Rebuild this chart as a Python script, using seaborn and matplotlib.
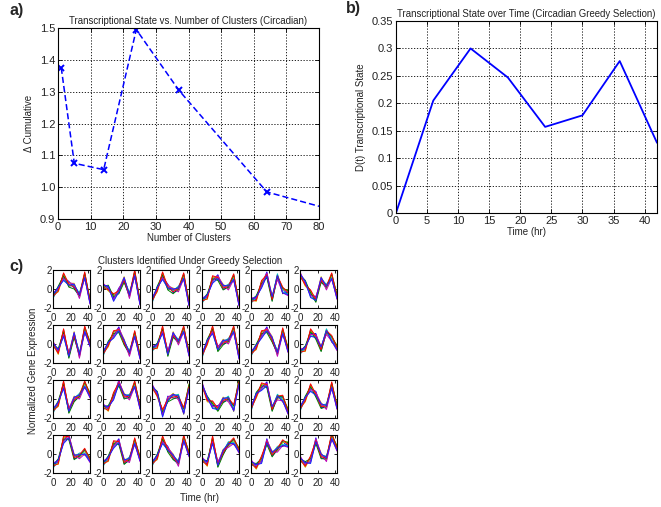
import matplotlib
matplotlib.use('Agg')
import matplotlib.pyplot as plt
import seaborn as sns
import numpy as np
import pandas as pd

# panel a: transcriptional state vs number of clusters
n_clusters = [1, 5, 14, 24, 37, 64, 80]
delta_cum = [1.375, 1.075, 1.055, 1.495, 1.305, 0.985, 0.94]

# panel b: D(t) over time
time_b = [0, 6, 12, 18, 24, 30, 36, 42]
dt_state = [0.0, 0.205, 0.300, 0.247, 0.157, 0.178, 0.277, 0.128]

# panel c: mean profile of each cluster (24 clusters, 8 time points)
time_c = [0, 6, 12, 18, 24, 30, 36, 42]
cluster_means = [
    [-0.7, 0.0, 1.3, 0.5, 0.3, -0.7, 1.4, -1.3],
    [0.3, 0.1, -0.9, -0.2, 1.0, -0.7, 1.6, -1.4],
    [-1.2, 0.0, 1.4, 0.2, -0.2, 0.0, 1.3, -1.5],
    [-1.2, -0.8, 1.0, 1.2, 0.2, 0.2, 1.2, -1.5],
    [-1.2, -1.0, 0.5, 1.5, -1.0, 1.3, -0.2, -0.4],
    [1.5, 0.6, -0.5, -1.1, 1.0, 0.2, 1.3, -0.8],
    [0.0, -0.8, 1.2, -1.2, 1.0, -1.2, 1.5, 0.0],
    [-1.0, 0.0, 1.0, 1.5, 0.2, -1.0, 1.0, -1.3],
    [-0.5, -0.2, 1.5, -1.0, 1.0, 0.2, 1.5, -1.0],
    [-1.2, 0.2, 1.5, -0.5, 0.2, 0.3, 1.5, -1.3],
    [-1.0, -0.3, 1.0, 1.5, 0.5, -1.0, 1.3, -0.6],
    [-0.8, -0.5, 1.2, 0.8, -0.5, 1.3, 0.5, -0.4],
    [-1.2, -0.5, 1.5, -1.2, 0.0, 0.3, 1.5, 0.4],
    [-0.8, -1.0, 0.3, 1.7, 0.3, 0.2, 1.5, -0.8],
    [1.3, 0.5, -1.5, 0.0, 0.3, 0.2, -1.3, 1.3],
    [1.5, 0.0, -0.6, -1.0, -0.1, 0.0, -1.0, 1.8],
    [-1.0, 0.4, 1.3, 1.5, -1.0, 0.2, 0.0, -1.3],
    [-1.0, 0.0, 1.2, 0.5, -0.7, -0.8, 1.4, -0.8],
    [-1.2, -0.8, 1.5, 1.8, -0.3, -0.2, 0.2, -0.6],
    [-1.0, -0.5, 1.0, 1.3, -0.8, -0.6, 1.3, -0.5],
    [-1.0, -0.3, 1.5, 0.5, -0.3, -1.0, 1.6, 0.0],
    [-0.6, -1.0, 1.5, -1.1, 0.2, 1.0, 1.3, 0.4],
    [-0.9, -1.3, -0.6, 1.3, 0.0, 0.5, 1.1, 1.0],
    [-0.5, -1.1, -0.6, 1.4, -0.2, -0.5, 1.8, 0.6],
]
# spread of the individual genes around the cluster mean (read by eye)
gene_spread = [
    [0.2, -0.1, 0.3, -0.2, 0.1, 0.2, -0.3, 0.1],
    [-0.2, 0.2, -0.1, 0.3, -0.2, -0.1, 0.2, -0.2],
    [0.1, -0.3, 0.2, 0.1, 0.3, -0.2, 0.1, 0.3],
    [-0.3, 0.1, -0.3, -0.1, 0.0, 0.3, -0.1, -0.1],
    [0.0, 0.3, 0.1, -0.3, -0.3, 0.0, 0.3, 0.2],
    [0.3, 0.0, -0.2, 0.2, 0.2, -0.3, -0.2, -0.3],
    [-0.1, -0.2, 0.4, 0.0, -0.1, 0.1, 0.4, 0.0],
    [0.1, 0.2, -0.4, -0.1, 0.2, 0.1, -0.2, -0.2],
]
# old matlab colour order (dark ones drawn first so the colours show on top)
matlab_colors = ['#303030', '#0000ff', '#bfbf00', '#00bfbf', '#008000', '#bf00bf', '#ff0000', '#2020ff']

sns.set_style('white')
plt.rcParams['font.family'] = ['Liberation Sans', 'DejaVu Sans']
plt.rcParams['xtick.direction'] = 'in'
plt.rcParams['ytick.direction'] = 'in'
plt.rcParams['axes.unicode_minus'] = False

fig = plt.figure(figsize=(6.61, 5.07), dpi=100)
W, H = 661.0, 507.0

def px_axes(left, top, right, bottom):
    return fig.add_axes([left / W, 1 - bottom / H, (right - left) / W, (bottom - top) / H])

def matlab_box(ax, fs):
    for s in ax.spines.values():
        s.set_color('black')
        s.set_linewidth(0.8)
    ax.tick_params(top=True, right=True, bottom=True, left=True, length=3, width=0.6,
                   labelsize=fs, colors='black', labelcolor='#222222', pad=2)

def matlab_grid(ax):
    ax.grid(True, color='black', linestyle=(0, (1.5, 2)), linewidth=0.6)
    ax.set_axisbelow(True)

# ---- panel a
ax_a = px_axes(58, 28, 319, 219)
df_a = pd.DataFrame({'clusters': n_clusters, 'delta': delta_cum})
sns.lineplot(data=df_a, x='clusters', y='delta', ax=ax_a, color='#0000ff', linestyle=(0, (4, 2)),
             linewidth=1.1, marker='x', markersize=5, markeredgewidth=1.4,
             markeredgecolor='#0000ff', markevery=list(range(6)))
ax_a.set_xlim(0, 80)
ax_a.set_ylim(0.9, 1.5)
ax_a.set_xticks(np.arange(0, 81, 10))
ax_a.set_yticks(np.arange(0.9, 1.51, 0.1))
ax_a.set_yticklabels(['0.9', '1.0', '1.1', '1.2', '1.3', '1.4', '1.5'])
matlab_box(ax_a, 8)
matlab_grid(ax_a)
ax_a.set_title('Transcriptional State vs. Number of Clusters (Circadian)', fontsize=6.9, pad=3,
               color='#222222')
ax_a.set_xlabel('Number of Clusters', fontsize=7, labelpad=1, color='#222222')
ax_a.set_ylabel('Δ Cumulative', fontsize=7, labelpad=4, color='#222222')

# ---- panel b
ax_b = px_axes(396, 21, 657, 213)
df_b = pd.DataFrame({'time': time_b, 'state': dt_state})
sns.lineplot(data=df_b, x='time', y='state', ax=ax_b, color='#0000ff', linewidth=1.3)
ax_b.set_xlim(0, 42)
ax_b.set_ylim(0, 0.35)
ax_b.set_xticks(np.arange(0, 41, 5))
ax_b.set_yticks(np.arange(0, 0.351, 0.05))
ax_b.set_yticklabels(['0', '0.05', '0.1', '0.15', '0.2', '0.25', '0.3', '0.35'])
matlab_box(ax_b, 8)
matlab_grid(ax_b)
ax_b.set_title('Transcriptional State over Time (Circadian Greedy Selection)', fontsize=6.9, pad=3,
               color='#222222')
ax_b.set_xlabel('Time (hr)', fontsize=7, labelpad=1, color='#222222')
ax_b.set_ylabel('D(t) Transcriptional State', fontsize=7, labelpad=4, color='#222222')

# ---- panel c
col_left = [53, 103, 152, 202, 251, 300]
row_top = [270, 325, 380, 435]
box_w, box_h = 37, 38
rows = []
for k, mean in enumerate(cluster_means):
    for g, sp in enumerate(gene_spread):
        for t, m, d in zip(time_c, mean, sp):
            rows.append({'cluster': k, 'gene': g, 'time': t, 'expr': m + d})
df_c = pd.DataFrame(rows)

for k in range(len(cluster_means)):
    r, c = divmod(k, 6)
    ax = px_axes(col_left[c], row_top[r], col_left[c] + box_w, row_top[r] + box_h)
    sns.lineplot(data=df_c[df_c['cluster'] == k], x='time', y='expr', hue='gene',
                 palette=matlab_colors, legend=False, ax=ax, linewidth=0.7)
    ax.set_xlim(0, 42)
    ax.set_ylim(-2, 2)
    ax.set_xticks([0, 20, 40])
    ax.set_yticks([-2, 0, 2])
    ax.set_xlabel('')
    ax.set_ylabel('')
    matlab_box(ax, 7)
    ax.tick_params(length=2)
    ax.tick_params(axis='y', pad=0.6)
    ax.tick_params(axis='x', pad=3.4)

fig.text(190 / W, 1 - 261 / H, 'Clusters Identified Under Greedy Selection', fontsize=7,
         ha='center', va='center', color='#222222')
fig.text(200 / W, 1 - 498 / H, 'Time (hr)', fontsize=7, ha='center', va='center', color='#222222')
fig.text(33 / W, 1 - 371 / H, 'Normalized Gene Expression', fontsize=7, rotation=90,
         ha='center', va='center', color='#222222')

# panel letters
fig.text(9 / W, 1 - 11 / H, 'a)', fontsize=11.5, fontweight='bold', va='center')
fig.text(346 / W, 1 - 9 / H, 'b)', fontsize=11.5, fontweight='bold', va='center')
fig.text(9 / W, 1 - 267 / H, 'c)', fontsize=11.5, fontweight='bold', va='center')

plt.savefig('out.png', dpi=100)
